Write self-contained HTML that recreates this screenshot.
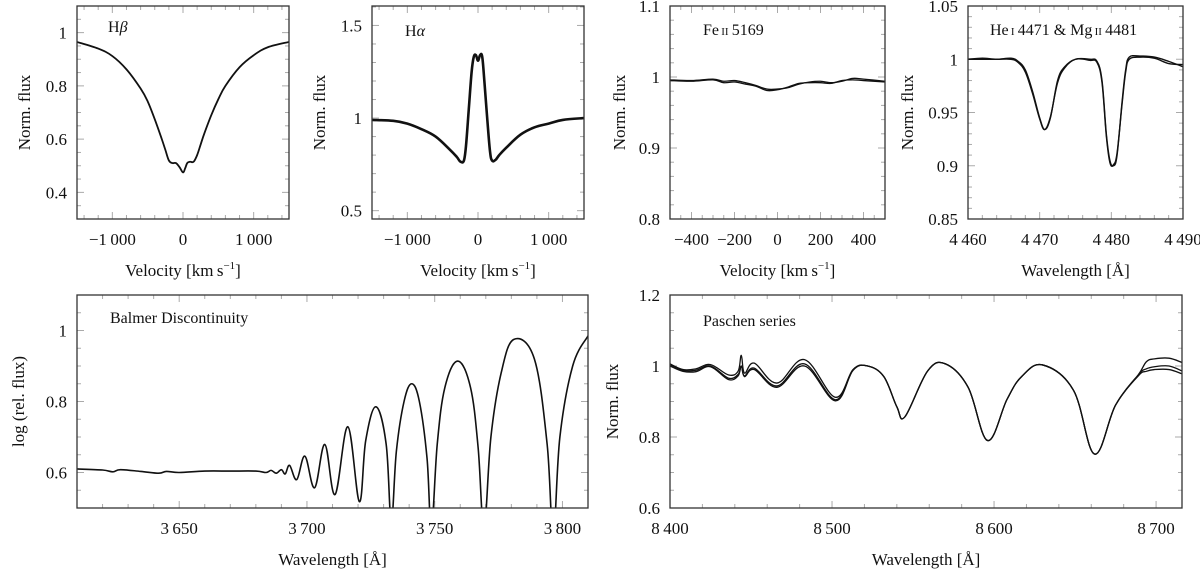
<!DOCTYPE html>
<html><head><meta charset="utf-8">
<style>
html,body{margin:0;padding:0;background:#fff;}
svg{display:block;font-family:"Liberation Serif",serif;}
</style></head>
<body>
<svg id="fig" width="1200" height="573" viewBox="0 0 1200 573"></svg>
<script>
// ---- data ----
const hbVel = [-1500,-1200,-1000,-800,-600,-500,-400,-300,-250,-200,-150,-100,-50,0,30,60,100,150,200,250,300,400,500,600,800,1000,1200,1500];
const hbFlux = [0.965,0.94,0.912,0.862,0.79,0.742,0.675,0.6,0.56,0.52,0.51,0.51,0.495,0.475,0.49,0.51,0.515,0.515,0.54,0.58,0.62,0.69,0.75,0.8,0.87,0.915,0.945,0.965];

const haVel = [-1500,-1200,-1000,-800,-600,-400,-300,-250,-200,-170,-130,-90,-60,-30,0,30,60,90,130,170,200,250,300,400,600,800,1000,1200,1500];
const haFlux = [0.99,0.985,0.97,0.94,0.9,0.83,0.79,0.765,0.77,0.85,1.05,1.25,1.33,1.34,1.31,1.34,1.33,1.2,1.0,0.82,0.77,0.775,0.8,0.84,0.91,0.95,0.97,0.99,1.0];

const feVel = [-500,-400,-300,-250,-200,-150,-100,-50,0,50,100,150,200,250,300,350,400,500];
const feFluxA = [0.996,0.995,0.997,0.994,0.995,0.992,0.988,0.983,0.983,0.985,0.99,0.993,0.994,0.992,0.994,0.998,0.997,0.994];
const feFluxB = [0.995,0.994,0.996,0.992,0.993,0.990,0.987,0.981,0.982,0.986,0.991,0.992,0.992,0.991,0.995,0.996,0.995,0.993];

const heWave = [4460,4462,4464,4466,4467,4468,4469,4470,4470.7,4471.5,4472.5,4473.5,4475,4477,4478,4478.7,4479.3,4479.8,4480.3,4480.8,4481.5,4482,4482.5,4484,4486,4488,4490];
const heFluxA = [1.0,1.001,1.0,1.001,0.998,0.99,0.97,0.945,0.934,0.945,0.98,0.993,1.0,1.0,0.998,0.98,0.93,0.905,0.9,0.91,0.96,0.99,1.002,1.003,1.002,0.998,0.993];
const heFluxB = [1.0,1.0,1.0,1.0,0.997,0.988,0.968,0.944,0.934,0.946,0.978,0.992,1.0,0.999,0.997,0.978,0.928,0.903,0.901,0.912,0.958,0.988,1.0,1.002,1.001,0.996,0.995];

const balWave = [3610,3620,3624,3627,3635,3642,3645,3650,3660,3670,3680,3684,3686,3688,3690,3691.5,3693.2,3696,3699.2,3703,3707,3711,3716,3720.5,3723,3727,3731,3733,3735,3738,3741,3744,3747,3748.7,3751,3754,3759,3764,3767,3769.3,3772,3776,3781,3789,3794,3796.4,3799,3804,3810];
const balFlux = [0.61,0.607,0.602,0.608,0.603,0.598,0.603,0.6,0.604,0.604,0.604,0.6,0.606,0.598,0.608,0.596,0.62,0.58,0.646,0.557,0.679,0.538,0.729,0.518,0.69,0.785,0.68,0.46,0.66,0.8,0.85,0.8,0.64,0.44,0.68,0.84,0.914,0.84,0.67,0.44,0.7,0.88,0.975,0.92,0.68,0.42,0.7,0.9,0.985];

const paWave = [8400,8408,8416,8425,8436,8442,8444,8446,8452,8466,8483,8502,8513,8522,8532,8540,8545,8559,8570,8584,8596,8608,8617,8630,8649,8662,8675,8689,8694,8699,8708,8716];
const paFluxA = [1.006,0.99,0.992,1.004,0.975,0.985,1.03,0.98,1.008,0.952,1.018,0.912,0.99,1.0,0.97,0.885,0.857,0.986,1.006,0.94,0.79,0.906,0.97,1.003,0.932,0.752,0.89,0.975,1.012,1.02,1.022,1.01];
const paFluxB = [1.0,0.985,0.984,0.998,0.962,0.972,1.0,0.97,0.99,0.94,1.0,0.902,0.988,1.0,0.97,0.885,0.857,0.986,1.006,0.94,0.79,0.906,0.97,1.003,0.932,0.752,0.89,0.975,0.992,0.998,1.0,0.986];
const paFluxC = [1.004,0.988,0.988,1.0,0.966,0.976,1.0,0.972,0.994,0.944,1.006,0.905,0.99,1.0,0.97,0.885,0.857,0.986,1.006,0.94,0.79,0.906,0.97,1.003,0.932,0.752,0.89,0.972,0.985,0.99,0.99,0.978];

// ---- drawing ----
const NS = "http://www.w3.org/2000/svg";
const svg = document.getElementById('fig');
function mk(tag, attrs, parent){
  const e = document.createElementNS(NS, tag);
  for (const k in attrs) e.setAttribute(k, attrs[k]);
  (parent||svg).appendChild(e);
  return e;
}
function fmt(v){
  let s = (Math.round(v*1000)/1000).toString();
  const neg = s[0]==='-'; if(neg) s=s.slice(1);
  let [ip,dp] = s.split('.');
  if (ip.length>=4) ip = ip.slice(0,ip.length-3)+'\u2009'+ip.slice(-3);
  return (neg?'\u2212':'')+ip+(dp?'.'+dp:'');
}
function smoothPath(pts){
  let d = 'M'+pts[0][0].toFixed(2)+','+pts[0][1].toFixed(2);
  for (let i=0;i<pts.length-1;i++){
    const p0=pts[Math.max(i-1,0)], p1=pts[i], p2=pts[i+1], p3=pts[Math.min(i+2,pts.length-1)];
    const t=0.18;
    const c1=[p1[0]+(p2[0]-p0[0])*t, p1[1]+(p2[1]-p0[1])*t];
    const c2=[p2[0]-(p3[0]-p1[0])*t, p2[1]-(p3[1]-p1[1])*t];
    d+=' C'+c1[0].toFixed(2)+','+c1[1].toFixed(2)+' '+c2[0].toFixed(2)+','+c2[1].toFixed(2)+' '+p2[0].toFixed(2)+','+p2[1].toFixed(2);
  }
  return d;
}
let clipId=0;
function panel(cfg){
  const g = mk('g',{});
  
  
  const {x0,x1,y0,y1,xmin,xmax,ymin,ymax} = cfg;
  const sx = v => x0 + (v-xmin)/(xmax-xmin)*(x1-x0);
  const sy = v => y1 - (v-ymin)/(ymax-ymin)*(y1-y0);
  const tg = mk('g',{stroke:'#aaa','stroke-width':1},g);
  
  
  const eps=1e-9;
  for (let v=Math.ceil(xmin/cfg.xminor-eps)*cfg.xminor; v<=xmax+eps; v+=cfg.xminor){
    const X=sx(v); const maj = cfg.xmajor.some(m=>Math.abs(m-v)<1e-6);
    const L = maj?7:4;
    mk('line',{x1:X,x2:X,y1:y1,y2:y1-L},tg); mk('line',{x1:X,x2:X,y1:y0,y2:y0+L},tg);
  }
  for (let v=Math.ceil(ymin/cfg.yminor-eps)*cfg.yminor; v<=ymax+eps; v+=cfg.yminor){
    const Y=sy(v); const maj = cfg.ymajor.some(m=>Math.abs(m-v)<1e-6);
    const L = maj?7:4;
    mk('line',{x1:x0,x2:x0+L,y1:Y,y2:Y},tg); mk('line',{x1:x1,x2:x1-L,y1:Y,y2:Y},tg);
  }
  const cid='clip'+(clipId++);
  const cp = mk('clipPath',{id:cid},g); mk('rect',{x:x0,y:y0,width:x1-x0,height:y1-y0},cp);
  cfg.series.forEach((s,i)=>{
    const pts = s.x.map((xv,j)=>[sx(xv), sy(s.y[j])]);
    const p = mk('path',{d:smoothPath(pts),fill:'none',stroke:'#111','stroke-width':s.w||1.4,'stroke-linejoin':'round','clip-path':'url(#'+cid+')'},g);
    
    
  });
  const fr = mk('rect',{x:x0,y:y0,width:x1-x0,height:y1-y0,fill:'none',stroke:'#333','stroke-width':1.3},g);
  
  
  cfg.xmajor.forEach(v=>{
    const t = mk('text',{x:sx(v),y:y1+26,'text-anchor':'middle','font-size':17,fill:'#111'},g);
    t.textContent = fmt(v);
    
    
  });
  cfg.ymajor.forEach(v=>{
    const t = mk('text',{x:x0-10,y:sy(v)+6,'text-anchor':'end','font-size':17,fill:'#111'},g);
    t.textContent = fmt(v);
    
    
  });
  const xt = mk('text',{x:(x0+x1)/2,y:cfg.xty,'text-anchor':'middle','font-size':17,fill:'#111'},g);
  xt.innerHTML = cfg.xlabel;
  
  
  const yt = mk('text',{x:0,y:0,'text-anchor':'middle','font-size':17,fill:'#111',transform:'translate('+cfg.ytx+','+((y0+y1)/2)+') rotate(-90)'},g);
  yt.textContent = cfg.ylabel;
  
  
  const tt = mk('text',{x:cfg.tx,y:cfg.ty,'font-size':16,fill:'#111'},g);
  tt.innerHTML = cfg.title;
  
  
}
const velLab = 'Velocity [km\u2009s<tspan dy="-7" font-size="11">\u22121</tspan><tspan dy="7">]</tspan>';
const wavLab = 'Wavelength [\u00C5]';

panel({name:'hbeta-panel',x0:77,x1:289,y0:6,y1:219,xmin:-1500,xmax:1500,ymin:0.3,ymax:1.1,
  xmajor:[-1000,0,1000],xminor:200,ymajor:[0.4,0.6,0.8,1],yminor:0.05,
  xlabel:velLab,ylabel:'Norm. flux',xty:276,ytx:30,tx:108,ty:32,title:'H<tspan font-style="italic">β</tspan>',
  series:[{x:hbVel,y:hbFlux,w:1.8}]});
panel({name:'halpha-panel',x0:372,x1:584,y0:6,y1:219,xmin:-1500,xmax:1500,ymin:0.455,ymax:1.605,
  xmajor:[-1000,0,1000],xminor:200,ymajor:[0.5,1,1.5],yminor:0.1,
  xlabel:velLab,ylabel:'Norm. flux',xty:276,ytx:325,tx:405,ty:36,title:'H<tspan font-style="italic">α</tspan>',
  series:[{x:haVel,y:haFlux,w:2.6}]});
panel({name:'fe-ii-panel',x0:670,x1:885,y0:6,y1:219,xmin:-500,xmax:500,ymin:0.8,ymax:1.1,
  xmajor:[-400,-200,0,200,400],xminor:50,ymajor:[0.8,0.9,1,1.1],yminor:0.02,
  xlabel:velLab,ylabel:'Norm. flux',xty:276,ytx:625,tx:703,ty:35,title:'Fe<tspan font-size="11">\u2009II</tspan>\u20095169',
  series:[{x:feVel,y:feFluxA,w:1.3},{x:feVel,y:feFluxB,w:1.3}]});
panel({name:'he-mg-panel',x0:968,x1:1183,y0:6,y1:219,xmin:4460,xmax:4490,ymin:0.85,ymax:1.05,
  xmajor:[4460,4470,4480,4490],xminor:2,ymajor:[0.85,0.9,0.95,1,1.05],yminor:0.01,
  xlabel:wavLab,ylabel:'Norm. flux',xty:276,ytx:913,tx:990,ty:35,title:'He<tspan font-size="11">\u2009I</tspan>\u20094471 &amp; Mg<tspan font-size="11">\u2009II</tspan>\u20094481',
  series:[{x:heWave,y:heFluxA,w:1.4},{x:heWave,y:heFluxB,w:1.4}]});
panel({name:'balmer-panel',x0:77,x1:588,y0:295,y1:508,xmin:3610,xmax:3810,ymin:0.5,ymax:1.1,
  xmajor:[3650,3700,3750,3800],xminor:10,ymajor:[0.6,0.8,1],yminor:0.05,
  xlabel:wavLab,ylabel:'log (rel. flux)',xty:565,ytx:24,tx:110,ty:323,title:'Balmer Discontinuity',
  series:[{x:balWave,y:balFlux,w:1.6}]});
panel({name:'paschen-panel',x0:670,x1:1182,y0:295,y1:508,xmin:8400,xmax:8716,ymin:0.6,ymax:1.2,
  xmajor:[8400,8500,8600,8700],xminor:20,ymajor:[0.6,0.8,1,1.2],yminor:0.05,
  xlabel:wavLab,ylabel:'Norm. flux',xty:565,ytx:618,tx:703,ty:326,title:'Paschen series',
  series:[{x:paWave,y:paFluxA,w:1.3},{x:paWave,y:paFluxB,w:1.3},{x:paWave,y:paFluxC,w:1.3}]});
</script>
</body></html>
